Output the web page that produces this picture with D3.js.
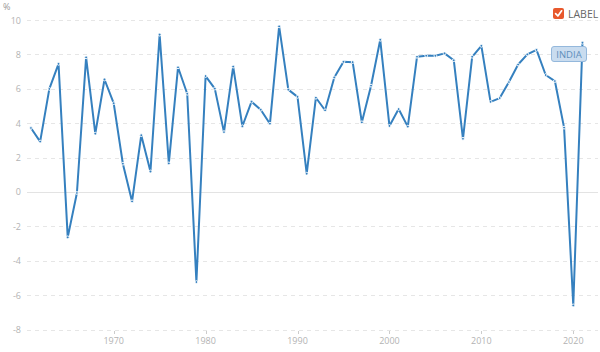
<!DOCTYPE html>
<html><head><meta charset="utf-8">
<script src="https://cdn.jsdelivr.net/npm/d3@7"></script>
<style>
body{margin:0;background:#fff;}
svg{display:block;font-family:"Open Sans",sans-serif;}
</style></head>
<body><svg id="c" width="600" height="352"></svg>
<script>
const years = d3.range(1961, 2022);
const growth = [3.72,2.93,5.99,7.45,-2.64,-0.06,7.83,3.39,6.54,5.16,
 1.64,-0.55,3.30,1.19,9.15,1.66,7.25,5.71,-5.24,6.74,
 6.01,3.48,7.29,3.82,5.25,4.78,3.97,9.63,5.95,5.53,
 1.06,5.48,4.75,6.66,7.57,7.55,4.05,6.18,8.85,3.84,
 4.82,3.80,7.86,7.92,7.92,8.06,7.66,3.09,7.86,8.50,
 5.24,5.46,6.39,7.41,8.00,8.26,6.80,6.45,3.74,-6.60,8.68];
const yTicks = [-8,-6,-4,-2,0,2,4,6,8,10];
const xTicks = [1970,1980,1990,2000,2010,2020];
const seriesName = "INDIA";
const legendLabel = "LABEL";
const unit = "%";

const data = years.map((y,i)=>({year:y, value:growth[i]}));
const svg = d3.select("#c");
const x = d3.scaleLinear().domain([1960.57, 2022.69]).range([27, 598]);
const y = d3.scaleLinear().domain([-8, 10]).range([329.5, 20]);

// grid
const g = svg.append("g");
g.selectAll("line.grid").data(yTicks).join("line")
  .attr("x1", x.range()[0]).attr("x2", x.range()[1])
  .attr("y1", d=>Math.round(y(d))+0.5).attr("y2", d=>Math.round(y(d))+0.5)
  .attr("stroke", d=> d===0 ? "#e3e3e3" : "#e6e6e6")
  .attr("stroke-width", 1)
  .attr("stroke-dasharray", d=> d===0 ? null : "4,4");

// y labels
svg.selectAll("text.yl").data(yTicks).join("text")
  .attr("x", 21).attr("y", d=>y(d)+3.5)
  .attr("text-anchor","end").attr("font-size", 9).attr("fill","#b3b3b3")
  .text(d=>d);
svg.append("text").attr("x",3).attr("y",10).attr("font-size",9).attr("fill","#999").text(unit);

// x axis ticks
const xa = svg.append("g");
xa.selectAll("line").data(xTicks).join("line")
  .attr("x1", d=>Math.round(x(d))+0.5).attr("x2", d=>Math.round(x(d))+0.5)
  .attr("y1", 331).attr("y2", 334).attr("stroke","#cccccc");
xa.selectAll("text").data(xTicks).join("text")
  .attr("x", d=>x(d)).attr("y", 344).attr("text-anchor","middle")
  .attr("font-size", 9).attr("fill","#b3b3b3").text(d=>d);

// line
const color = "#3580bf";
svg.append("path").datum(data)
  .attr("d", d3.line().x(d=>x(d.year)).y(d=>y(d.value)))
  .attr("fill","none").attr("stroke", color).attr("stroke-width", 2)
  .attr("stroke-linejoin","round");
svg.selectAll("circle.pt").data(data).join("circle")
  .attr("cx", d=>x(d.year)).attr("cy", d=>y(d.value)).attr("r", 1.4)
  .attr("fill", color).attr("stroke","#fff").attr("stroke-width",0.9);

// series label box
const lb = svg.append("g");
lb.append("rect").attr("x",551.5).attr("y",46.5).attr("width",35).attr("height",15).attr("rx",2.5)
  .attr("fill","#c9dcef").attr("stroke","#94b8dc").attr("stroke-width",1);
lb.append("text").attr("x",569).attr("y",57.5).attr("text-anchor","middle")
  .attr("font-size",9.5).attr("fill","#5f8fbb").text(seriesName);

// legend
const lg = svg.append("g");
lg.append("rect").attr("x",553).attr("y",8).attr("width",11).attr("height",11).attr("rx",2)
  .attr("fill","#e8582c");
lg.append("path").attr("d","M555.6,13.6 L557.9,16 L561.6,10.8").attr("fill","none")
  .attr("stroke","#fff").attr("stroke-width",1.7).attr("stroke-linecap","round").attr("stroke-linejoin","round");
lg.append("text").attr("x",568).attr("y",17.5).attr("font-size",10.5).attr("fill","#666").text(legendLabel);
</script></body></html>
